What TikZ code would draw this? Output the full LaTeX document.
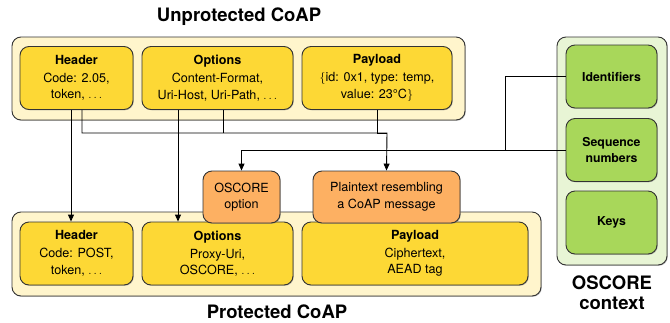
\documentclass[tikz,border=0pt]{standalone}
\usepackage{fontspec}
\setmainfont{TeX Gyre Heros}
\usetikzlibrary{arrows.meta,shadows}

\definecolor{msgouter}{HTML}{FFF5CC}
\definecolor{msgfield}{HTML}{FDD835}
\definecolor{oscfield}{HTML}{FDB062}
\definecolor{ctxouter}{HTML}{E8F5D5}
\definecolor{ctxfield}{HTML}{A8D75A}

\begin{document}
\begin{tikzpicture}[x=1pt,y=-1pt,
                >={Triangle[length=7pt,width=6pt]},
                box/.style={rectangle,rounded corners=9pt,draw=black!80,line width=0.9pt,
                    inner sep=0pt,align=center,font=\fontsize{12.6}{16.5}\selectfont,
                    drop shadow={shadow xshift=0.8pt,shadow yshift=-0.8pt,fill=black!50}},
                frame/.style={box,fill=msgouter},
                field/.style={box,fill=msgfield,minimum height=63pt},
                oscbox/.style={box,fill=oscfield,minimum height=52pt},
                ctxframe/.style={box,fill=ctxouter},
                ctxbox/.style={box,fill=ctxfield,minimum width=91pt,minimum height=63pt,font=\fontsize{12.3}{15.5}\bfseries},
                title/.style={font=\fontsize{18.5}{20}\bfseries,align=center},
                wire/.style={line width=0.9pt}
            ]
                \useasboundingbox (0,0) rectangle (670,322);

% unprotected message
                \node[title] (utitle) at (239,17) {Unprotected CoAP};
                \node[frame,minimum width=453pt,minimum height=83pt] (uframe) at (238.5,78.5) {};
                \node[field,minimum width=113pt] (uhdr) at (76.5,78) {\textbf{Header}\\[1.5pt]Code: 2.05,\\token, $\ldots$};
                \node[field,minimum width=151pt] (uopt) at (217.5,78) {\textbf{Options}\\[1.5pt]Content-Format,\\Uri-Host, Uri-Path, $\ldots$};
                \node[field,minimum width=150pt] (upay) at (377,78) {\textbf{Payload}\\[1.5pt]$\{$id: 0x1, type: temp,\\value: 23°C$\}$};

% protected message
                \node[title] (ptitle) at (277,312) {Protected CoAP};
                \node[frame,minimum width=529pt,minimum height=84pt] (pframe) at (276.5,254) {};
                \node[field,minimum width=113pt] (phdr) at (76.5,253.5) {\textbf{Header}\\[1.5pt]Code: POST,\\token, $\ldots$};
                \node[field,minimum width=151pt] (popt) at (217.5,253.5) {\textbf{Options}\\[1.5pt]Proxy-Uri,\\OSCORE, $\ldots$};
                \node[field,minimum width=226pt] (ppay) at (415,253.5) {\textbf{Payload}\\[1.5pt]Ciphertext,\\AEAD tag};
                \node[oscbox,minimum width=77pt] (oscopt) at (241.5,197) {OSCORE\\option};
                \node[oscbox,minimum width=147pt] (plain) at (386.5,197) {Plaintext resembling\\a CoAP message};

% security context
                \node[ctxframe,minimum width=110pt,minimum height=228pt] (ctx) at (612,151) {};
                \node[ctxbox] (ident) at (611.5,76.5) {Identifiers};
                \node[ctxbox] (seq) at (611.5,150) {Sequence\\numbers};
                \node[ctxbox] (keys) at (611.5,222.5) {Keys};
                \node[title] (ctitle) at (612,293) {OSCORE\\context};

% connectors
                \coordinate (bus) at (387,133);
                \coordinate (ctxjoin) at (505,150);
                \draw[wire,->] ([xshift=-5.5pt]uhdr.south) -- ([xshift=-5.5pt]phdr.north);
                \draw[wire,->] ([xshift=-39.5pt]uopt.south) -- ([xshift=-39.5pt]popt.north);
                \draw[wire,->] ([xshift=5.5pt]uhdr.south) |- (bus) -- (plain.north);
                \draw[wire] ([xshift=5.5pt]uopt.south) -- ([xshift=5.5pt]uopt.south |- bus);
                \draw[wire] (upay.south) |- (bus);
                \draw[wire,->] (seq.west) -| (oscopt.north);
                \draw[wire] (ident.west) -| (ctxjoin);

            \end{tikzpicture}
\end{document}
